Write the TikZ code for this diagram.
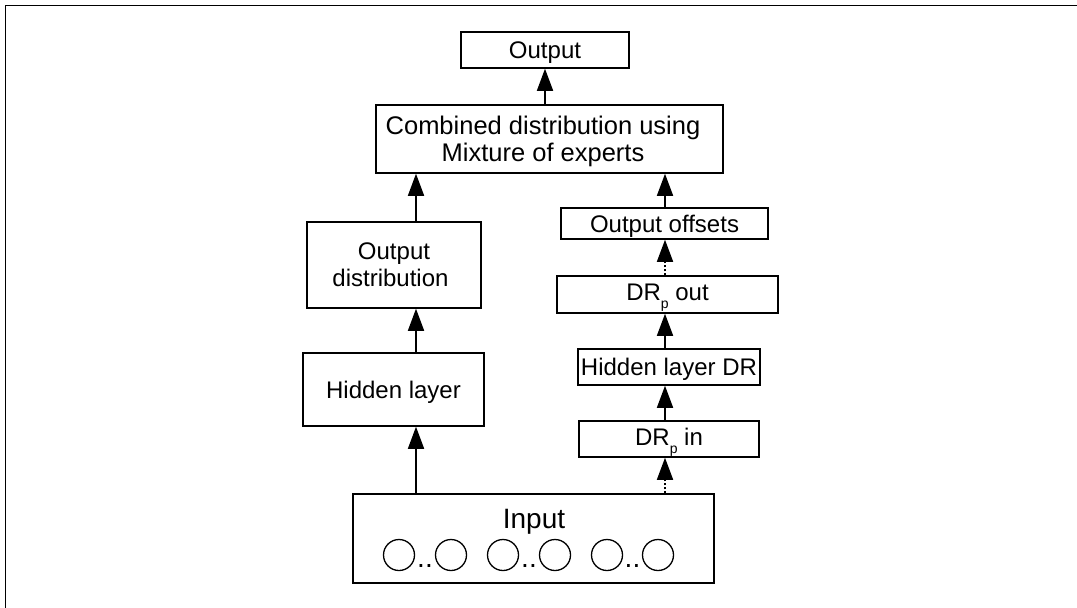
\documentclass[tikz,border=0pt]{standalone}
\usepackage{fontspec}
\setmainfont{Liberation Sans}
\usetikzlibrary{arrows.meta}
\newcommand{\subp}{\raisebox{-8pt}{\fontsize{14}{14}\selectfont p}}
\begin{document}
\begin{tikzpicture}[x=1pt,y=-1pt,
  box/.style={draw, line width=1.5pt, inner sep=0pt, align=center, text depth=0pt,
    font=\fontsize{24}{27}\selectfont},
  arr/.style={line width=1.6pt, -{Triangle[length=22pt,width=16pt]}},
  dotarr/.style={arr, dash pattern=on 2pt off 2pt},
  ring/.style={draw, circle, line width=1.3pt, minimum size=31pt, inner sep=0pt},
  dots/.style={anchor=base, inner sep=0pt, font=\fontsize{28}{28}\selectfont}]
\useasboundingbox (0,0) rectangle (1077,608);
\draw[line width=1.6pt] (5.5,608) -- (5.5,5.5) -- (1077,5.5);

% nodes
\node[box, minimum width=168pt, minimum height=36pt] (out) at (545,50) {Output};
\node[box, minimum width=347pt, minimum height=68pt,
  font=\fontsize{25.5}{27.5}\selectfont] (comb) at (549.5,139)
  {Combined distribution using\hspace*{13pt}\\Mixture of experts\hspace*{13pt}};
\node[box, minimum width=174pt, minimum height=86pt] (odist) at (394,265)
  {Output\\distribution\hspace*{7pt}};
\node[box, minimum width=181pt, minimum height=73pt] (hid) at (393.5,389.5)
  {Hidden layer};
\node[box, minimum width=207pt, minimum height=31pt] (offs) at (664.5,223.5)
  {Output offsets};
\node[box, minimum width=221pt, minimum height=37pt, text depth=5pt] (drout) at (667.5,294.5)
  {DR\subp{} out};
\node[box, minimum width=182pt, minimum height=36pt] (hdr) at (669,367)
  {Hidden layer DR};
\node[box, minimum width=180pt, minimum height=36pt, text depth=5pt] (drin) at (669,439)
  {DR\subp{} in};
\node[box, minimum width=361pt, minimum height=89pt] (inp) at (533.5,538.5) {};
\node[inner sep=0pt, text depth=0pt, font=\fontsize{28}{28}\selectfont] (inlabel) at (534,519) {Input};

% input units
\node[ring] (c1) at (399,555) {};
\node[ring] (c2) at (451,555) {};
\node[ring] (c3) at (503,555) {};
\node[ring] (c4) at (555,555) {};
\node[ring] (c5) at (607,555) {};
\node[ring] (c6) at (658,555) {};
\node[dots] (d1) at (425,567) {..};
\node[dots] (d2) at (529,567) {..};
\node[dots] (d3) at (632.5,567) {..};

% columns
\coordinate (lx) at (416,0);
\coordinate (rx) at (665,0);
\coordinate (mx) at (545,0);

% connectors
\draw[arr] (inp.north -| lx) -- (hid.south -| lx);
\draw[arr] (hid.north -| lx) -- (odist.south -| lx);
\draw[arr] (odist.north -| lx) -- (comb.south -| lx);
\draw[arr] (comb.north -| mx) -- (out.south -| mx);
\draw[dotarr] (inp.north -| rx) -- (drin.south -| rx);
\draw[arr] (drin.north -| rx) -- (hdr.south -| rx);
\draw[arr] (hdr.north -| rx) -- (drout.south -| rx);
\draw[dotarr] (drout.north -| rx) -- (offs.south -| rx);
\draw[arr] (offs.north -| rx) -- (comb.south -| rx);
\end{tikzpicture}
\end{document}
